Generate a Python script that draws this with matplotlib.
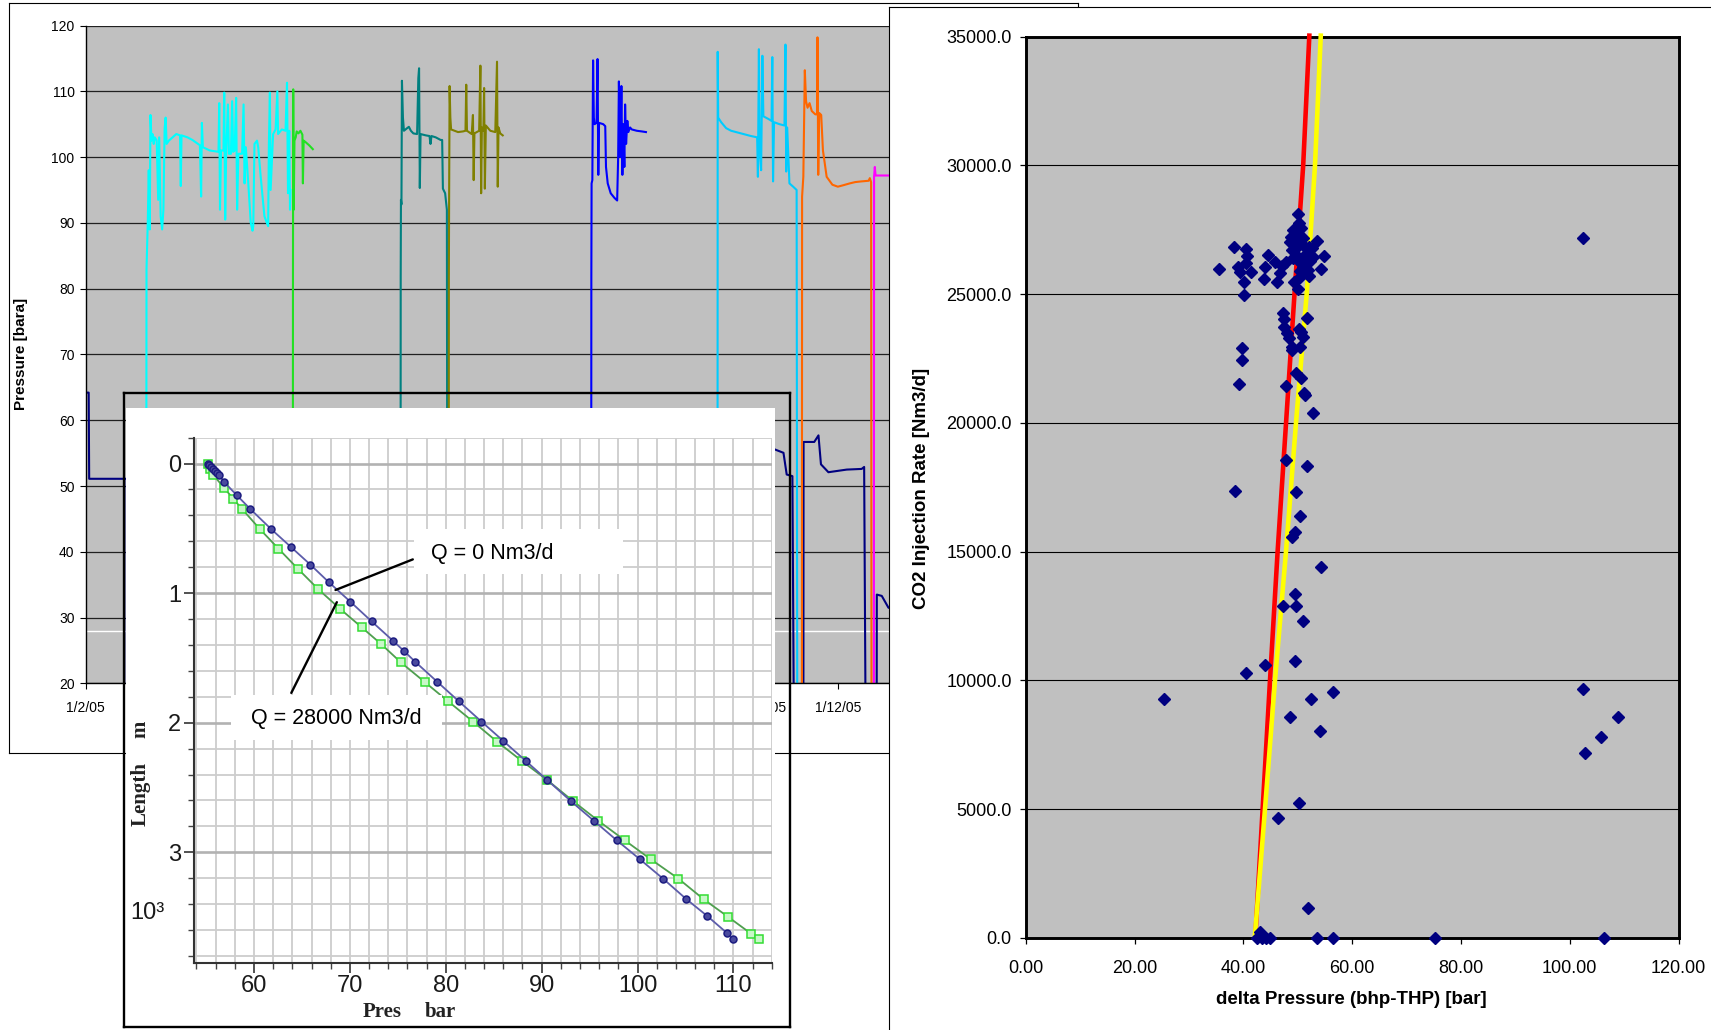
import numpy as np
import matplotlib
matplotlib.use("Agg")
import matplotlib.pyplot as plt
import matplotlib.dates as mdates
from matplotlib.patches import Rectangle
from matplotlib.ticker import MultipleLocator, FuncFormatter

plt.rcParams['font.family'] = ['Liberation Sans', 'DejaVu Sans']

# ---------------------------------------------------------------------------
# Wellhead pressure history (days after 1 Feb 2005, bara)
# ---------------------------------------------------------------------------
navy_day = [0, 1.2, 1.4, 16.5, 16.6, 271.9, 272.0, 277.7, 281.1, 282.4, 284.7, 285.5,
            289.1, 289.2, 293.5, 295.2, 296.2, 299.2, 306.6, 312.6, 313.6, 314.4,
            318.6, 318.7, 320.7, 323.4, 330.0]
navy_bar = [64.2, 64.2, 51.1, 51.1, 0, 0, 55.6, 55.55, 55.05, 51.75, 51.5, 0,
            0, 56.7, 56.7, 57.7, 53.3, 52.1, 52.5, 52.6, 52.9, 0,
            0, 33.5, 33.3, 31.5, 31.0]

cyan_day = [24.3, 24.5, 25.0, 25.4, 25.8, 26.1, 26.5, 26.9, 27.4, 27.8, 28.6, 29.2, 29.6,
            30.2, 30.8, 31.3, 31.8, 32.2, 32.6, 33.5, 35.0, 36.5, 38.0, 38.3, 38.6, 41.0,
            43.0, 46.0, 46.5, 46.8, 47.2, 50.0, 53.5, 53.8, 54.1, 54.5, 55.5, 55.8, 56.2,
            56.6, 57.3, 57.7, 58.5, 59.0, 59.4, 60.0, 60.6, 61.0, 61.5, 63.0, 63.6, 64.0,
            64.5, 65.5, 66.5, 67.2, 67.5, 68.0, 69.0, 69.5, 70.5, 72.0, 73.5, 73.8, 74.2,
            74.5, 75.5, 76.5, 77.2, 77.5, 79.0, 80.5, 81.1, 81.5, 82.0, 82.3, 82.5]
cyan_bar = [0, 83.0, 90.0, 98.0, 89.0, 106.4, 102.5, 103.5, 102.0, 103.0, 102.5, 93.5, 103.0,
            91.0, 89.0, 92.0, 104.4, 106.0, 102.0, 102.5, 103.0, 103.5, 103.3, 95.6, 103.3, 103.0,
            102.6, 101.8, 94.0, 105.2, 101.5, 101.0, 100.8, 108.2, 92.0, 101.0, 101.0, 109.8, 90.5,
            101.0, 108.0, 100.5, 100.5, 108.5, 100.8, 101.0, 109.0, 92.0, 100.5, 100.5, 108.0, 96.0,
            101.5, 96.0, 90.0, 88.8, 89.5, 102.0, 102.5, 101.5, 97.0, 91.0, 89.5, 102.0, 109.8,
            95.0, 103.5, 104.2, 110.0, 103.5, 104.2, 104.0, 111.3, 94.5, 104.0, 92.0, 95.0]

green_day = [83.4, 83.5, 83.6, 83.8, 84.1, 84.6, 85.0, 85.7, 86.5, 87.3, 87.5, 87.8, 88.5, 90.0, 91.5]
green_bar = [0, 82.0, 110.3, 92.0, 102.5, 103.0, 103.9, 103.6, 104.0, 103.4, 96.0, 102.5, 102.3, 101.8, 101.2]

teal_day = [126.8, 126.9, 127.0, 127.2, 127.4, 127.8, 128.2, 129.5, 130.2, 131.0, 132.0, 133.5,
            134.0, 134.3, 134.6, 134.9, 137.0, 138.5, 138.9, 139.3, 141.0, 143.0, 143.6, 143.9,
            144.8, 145.5, 145.8]
teal_bar = [0, 82.0, 93.5, 92.8, 111.6, 106.0, 104.0, 104.4, 104.6, 104.0, 103.6, 103.5,
            112.0, 113.5, 95.3, 103.5, 103.3, 103.2, 102.0, 103.2, 103.0, 102.6, 102.6, 95.2,
            94.5, 92.0, 0]

olive_day = [146.2, 146.3, 146.4, 146.6, 146.9, 147.2, 150.0, 152.0, 153.0, 153.3, 153.6, 155.5,
             156.0, 156.3, 156.6, 158.5, 159.0, 159.3, 159.6, 160.2, 160.5, 160.8, 161.2, 163.0,
             165.0, 165.7, 166.0, 166.3, 167.0, 168.0]
olive_bar = [0, 82.0, 93.2, 110.8, 106.0, 104.2, 103.8, 103.9, 104.0, 111.0, 104.0, 103.5,
             106.4, 96.5, 103.6, 104.0, 113.9, 94.5, 104.5, 104.0, 110.5, 95.2, 104.8, 104.0,
             103.8, 114.5, 95.5, 104.5, 103.6, 103.3]

blue_day = [203.6, 203.7, 203.8, 204.1, 204.4, 204.7, 205.0, 205.8, 206.2, 206.5, 206.8, 208.5,
            209.3, 209.6, 210.3, 211.5, 213.0, 214.1, 214.5, 214.8, 215.1, 215.4, 215.8, 216.2,
            216.6, 217.0, 217.3, 217.7, 218.2, 218.6, 219.3, 220.0, 222.0, 224.0, 225.7]
blue_bar = [0, 82.0, 96.0, 96.5, 114.7, 106.0, 105.0, 105.2, 114.9, 97.3, 105.2, 105.0,
            104.7, 98.5, 96.0, 94.5, 93.8, 93.4, 100.0, 111.5, 105.5, 100.0, 110.8, 97.3,
            105.0, 98.5, 108.0, 102.0, 105.5, 103.8, 104.5, 104.2, 104.0, 103.9, 103.8]

sky_day = [254.5, 254.6, 254.8, 256.0, 258.0, 260.0, 262.0, 264.0, 266.0, 268.0, 270.5, 270.8,
           271.2, 271.5, 272.1, 272.6, 273.0, 275.0, 276.3, 276.6, 276.9, 277.3, 279.5, 281.5,
           281.9, 282.2, 282.6, 283.5, 285.0, 286.4, 286.7]
sky_bar = [0, 116.0, 106.0, 105.3, 104.4, 104.0, 103.8, 103.6, 103.4, 103.2, 103.0, 97.0,
           116.4, 101.0, 98.0, 115.4, 106.2, 105.8, 105.5, 115.2, 96.3, 105.3, 105.0, 104.8,
           117.1, 97.8, 104.5, 96.0, 95.5, 95.0, 0]

orange_day = [288.5, 288.6, 289.1, 289.7, 290.2, 290.8, 291.6, 292.5, 293.9, 294.6, 294.8, 295.1,
              295.5, 296.3, 297.0, 298.5, 300.8, 303.0, 305.0, 307.8, 310.0, 312.4, 315.4, 315.9,
              316.4, 316.6]
orange_bar = [0, 94.0, 97.0, 113.2, 108.5, 107.5, 108.2, 107.0, 106.5, 106.5, 118.2, 97.3,
              106.7, 106.4, 101.0, 97.0, 95.8, 95.5, 95.7, 96.0, 96.2, 96.3, 96.4, 96.8,
              96.2, 0]

magenta_day = [317.5, 317.6, 317.9, 318.2, 320.0, 323.5, 330.0]
magenta_bar = [0, 97.0, 98.5, 97.2, 97.2, 97.2, 97.2]

white_level = 27.9

# months whose date labels sit in the open part of the axis
labelled_months = [2, 11, 12]

# ---------------------------------------------------------------------------
# Pressure traverse along the well (bar vs. length in 10^3 m)
# ---------------------------------------------------------------------------
q0_pres = [55.18, 55.3, 55.5, 55.7, 55.9, 56.1, 56.38, 56.84, 58.22, 59.6, 61.8, 63.82, 65.89,
           67.82, 70.03, 72.28, 74.53, 75.68, 76.83, 79.08, 81.38, 83.72, 86.02, 88.32, 90.61,
           93.05, 95.44, 97.83, 100.27, 102.66, 105.09, 107.25, 109.32, 110.01]
q0_len = [0.0, 0.01, 0.025, 0.045, 0.06, 0.075, 0.089, 0.139, 0.246, 0.350, 0.507, 0.642, 0.781,
          0.917, 1.065, 1.219, 1.370, 1.449, 1.531, 1.682, 1.836, 1.991, 2.142, 2.293, 2.444,
          2.605, 2.756, 2.907, 3.055, 3.203, 3.361, 3.490, 3.622, 3.669]

q28_pres = [55.18, 55.45, 55.76, 56.91, 57.85, 58.79, 60.64, 62.55, 64.64, 66.72, 68.97, 71.22,
            73.29, 75.31, 77.79, 80.27, 82.89, 85.38, 87.95, 90.61, 93.28, 95.90, 98.66, 101.41,
            104.26, 106.93, 109.41, 111.85, 112.63]
q28_len = [0.0, 0.04, 0.089, 0.19, 0.274, 0.354, 0.508, 0.657, 0.817, 0.971, 1.121, 1.263,
           1.395, 1.534, 1.685, 1.836, 1.994, 2.148, 2.296, 2.444, 2.605, 2.756, 2.907, 3.055,
           3.203, 3.364, 3.496, 3.628, 3.672]

# ---------------------------------------------------------------------------
# CO2 injection rate vs. delta pressure
# ---------------------------------------------------------------------------
dp_bar = [35.55, 38.28, 39.06, 39.45, 40.04, 40.04, 40.43, 40.72, 40.43, 41.4, 43.83, 44.03,
          44.61, 45.78, 46.27, 46.76, 47.05, 47.92, 48.7, 48.5, 49.19, 49.97, 50.16, 50.65,
          49.68, 49.19, 50.65, 51.14, 50.36, 51.63, 52.12, 52.6, 53.58, 52.8, 54.84, 54.35,
          52.12, 49.39, 49.97, 50.94, 50.45, 51.34, 49.5, 50.0, 50.9, 51.6, 49.9, 50.3,
          51.0, 49.0, 50.5, 51.8, 52.3,
          47.24, 47.53, 47.44, 48.02, 48.41, 48.99, 48.99, 50.16, 50.65, 50.94, 50.45, 51.63,
          39.84, 39.84, 39.26, 47.83, 49.68, 50.65, 51.14, 51.34, 52.8, 47.83, 51.63, 38.48,
          49.68, 50.45, 48.99, 49.48, 54.35, 49.48, 47.24, 49.68, 50.94, 49.48, 44.03, 40.43,
          25.33, 52.41, 56.5, 48.51, 54.06, 50.16, 46.46, 51.82,
          102.47, 102.47, 105.69, 108.8, 102.76,
          43.15, 42.57, 43.35, 44.13, 44.81, 53.58, 56.5, 75.29, 106.36]
rate_nm3d = [25964, 26818, 26067, 25873, 25485, 24967, 26767, 26482, 26197, 25873, 25601, 26067,
             26521, 26262, 25485, 25808, 26093, 26236, 27233, 27039, 27492, 28101, 27751, 27557,
             26780, 26392, 26197, 25938, 25679, 26586, 26844, 26780, 27077, 26456, 26482, 25964,
             25705, 25485, 25187, 26067, 27168, 26456, 27300, 27000, 26900, 26200, 26500, 26300,
             27200, 26700, 25900, 25950, 26300,
             24281, 24022, 23737, 23478, 23284, 22960, 22830, 23634, 23543, 23349, 22960, 24061,
             22895, 22442, 21510, 21446, 21925, 21756, 21174, 21083, 20371, 18558, 18325, 17354,
             17302, 16383, 15560, 15757, 14404, 13354, 12894, 12894, 12316, 10754, 10596, 10281,
             9257, 9257, 9546, 8561, 8036, 5252, 4635, 1155,
             27181, 9677, 7812, 8561, 7182,
             236, 0, 0, 0, 0, 0, 0, 0, 0]

trend_rate = [0, 5000, 10000, 15000, 20000, 25000, 30000, 35130]
red_dp = [42.2, 43.55, 44.9, 46.3, 47.85, 49.4, 51.0, 52.15]
yellow_dp = [42.1, 43.98, 45.82, 47.84, 49.68, 51.64, 53.17, 54.25]

# ---------------------------------------------------------------------------
W, H = 1711, 1030
fig = plt.figure(figsize=(W / 100, H / 100), dpi=100)
fig.patch.set_facecolor('white')


def box(x0, y0, x1, y1):
    return [x0 / W, 1 - y1 / H, (x1 - x0) / W, (y1 - y0) / H]


def fx(x):
    return x / W


def fy(y):
    return 1 - y / H


def blank(ax):
    ax.set_xticks([])
    ax.set_yticks([])


# ---- top-left chart: pressure history -----------------------------------
frame1 = fig.add_axes(box(8.6, 3.3, 1078, 752.7), zorder=1)
blank(frame1)
frame1.set_facecolor('white')
for s in frame1.spines.values():
    s.set_linewidth(0.8)
    s.set_color('black')

ax1 = fig.add_axes(box(85.7, 25.5, 1060, 683.4), zorder=2)
ax1.set_facecolor('#C0C0C0')
t0 = mdates.date2num(np.datetime64('2005-02-01'))

ax1.axhline(white_level, color='white', lw=1.0, zorder=1.5)
series = [
    (navy_day, navy_bar, '#000080'),
    (cyan_day, cyan_bar, '#00FFFF'),
    (green_day, green_bar, '#22E022'),
    (teal_day, teal_bar, '#008080'),
    (olive_day, olive_bar, '#808000'),
    (blue_day, blue_bar, '#0000FF'),
    (sky_day, sky_bar, '#00CCFF'),
    (orange_day, orange_bar, '#FF6600'),
    (magenta_day, magenta_bar, '#FF00FF'),
]
for d, v, c in series:
    ax1.plot(t0 + np.asarray(d), v, color=c, lw=1.5, zorder=2)

ax1.set_xlim(t0, t0 + 392.5)
ax1.set_ylim(20, 120)
ax1.yaxis.set_major_locator(MultipleLocator(10))
ax1.xaxis.set_major_locator(mdates.MonthLocator())


def date_label(x, pos):
    d = mdates.num2date(x)
    if d.year == 2005 and d.month not in labelled_months:
        return ''
    return f"{d.day}/{d.month}/{d.strftime('%y')}"


ax1.xaxis.set_major_formatter(FuncFormatter(date_label))
ax1.grid(axis='y', color='#202020', lw=0.9)
ax1.grid(axis='x', visible=False)
ax1.set_axisbelow(True)
for side in ('top', 'right'):
    ax1.spines[side].set_visible(False)
for side in ('left', 'bottom'):
    ax1.spines[side].set_color('black')
    ax1.spines[side].set_linewidth(1.0)
ax1.tick_params(axis='both', labelsize=10, length=4, width=0.8, colors='black')
ax1.tick_params(axis='y', pad=4)
ax1.tick_params(axis='x', pad=9)
fig.text(fx(21.2), fy(354), 'Pressure [bara]', rotation=90, ha='center', va='center',
         fontsize=11, fontweight='bold')

# ---- inset: pressure traverse ---------------------------------------------
inset_bg = fig.add_axes(box(124, 393, 790, 1027), zorder=3)
blank(inset_bg)
inset_bg.patch.set_visible(False)
for s in inset_bg.spines.values():
    s.set_linewidth(1.7)
    s.set_color('black')
inset_bg.add_patch(Rectangle((fx(126), fy(1027)), (775 - 126) / W, (1027 - 408) / H,
                             transform=fig.transFigure, fc='white', ec='none', zorder=0.5))

ax2 = fig.add_axes(box(193.6, 437.6, 772.4, 962.6), zorder=4)
ax2.patch.set_visible(False)
ax2.plot(q28_pres, q28_len, color='#4f9f4f', lw=1.3, marker='s', ms=5.5,
         mfc='#c8f8c8', mec='#33dd33', mew=1.1, zorder=3)
ax2.plot(q0_pres, q0_len, color='#5c5caa', lw=1.3, marker='o', ms=5.0,
         mfc='#4a4a9e', mec='#1c1c80', mew=1.1, zorder=3.1)
ax2.set_xlim(53.7, 114.07)
ax2.set_ylim(3.851, -0.2)
ax2.xaxis.set_major_locator(MultipleLocator(10))
ax2.xaxis.set_minor_locator(MultipleLocator(2))
ax2.yaxis.set_major_locator(MultipleLocator(1))
ax2.yaxis.set_minor_locator(MultipleLocator(0.2))
ax2.grid(which='minor', color='#cdcdcd', lw=1.3)
ax2.grid(which='major', axis='x', color='#cdcdcd', lw=1.3)
ax2.grid(which='major', axis='y', color='#b2b2b2', lw=1.9)
ax2.set_axisbelow(True)
for side in ('top', 'right'):
    ax2.spines[side].set_visible(False)
for side in ('left', 'bottom'):
    ax2.spines[side].set_color('#333333')
    ax2.spines[side].set_linewidth(1.5)
ax2.tick_params(which='major', length=7.5, width=1.2, colors='#333333', labelsize=17,
                labelcolor='#1a1a1a', pad=1.5)
ax2.tick_params(which='minor', length=4.5, width=1.0, colors='#444444')

# callout boxes and leader lines
for (x0, y0, x1, y1) in [(414, 529, 623, 574), (231, 695, 442, 740)]:
    ax2.add_patch(Rectangle((fx(x0), fy(y1)), (x1 - x0) / W, (y1 - y0) / H,
                            transform=fig.transFigure, fc='white', ec='none',
                            zorder=5, clip_on=False))
ax2.text(fx(431), fy(553.6), 'Q = 0 Nm3/d', transform=fig.transFigure, ha='left',
         va='center', fontsize=15.5, zorder=6)
ax2.text(fx(250.8), fy(718.5), 'Q = 28000 Nm3/d', transform=fig.transFigure, ha='left',
         va='center', fontsize=15.5, zorder=6)
arrow = dict(arrowstyle='-', color='black', lw=1.7, shrinkA=0, shrinkB=0)
ax2.annotate('', xy=(68.5, 0.976), xycoords='data', xytext=(fx(412.8), fy(559.4)),
             textcoords='figure fraction', arrowprops=arrow, zorder=6)
ax2.annotate('', xy=(68.64, 1.07), xycoords='data', xytext=(fx(291.3), fy(692.9)),
             textcoords='figure fraction', arrowprops=arrow, zorder=6)

serif = ['Liberation Serif', 'DejaVu Serif']
ax2.text(fx(382.2), fy(1012.4), 'Pres', transform=fig.transFigure, ha='center', va='center',
         fontsize=15, fontweight='bold', family=serif, color='#222222', clip_on=False)
ax2.text(fx(440.1), fy(1012.4), 'bar', transform=fig.transFigure, ha='center', va='center',
         fontsize=15, fontweight='bold', family=serif, color='#222222', clip_on=False)
ax2.text(fx(140.7), fy(794), 'Length', transform=fig.transFigure, ha='center', va='center',
         rotation=90, fontsize=15, fontweight='bold', family=serif, color='#222222',
         clip_on=False)
ax2.text(fx(140.7), fy(729), 'm', transform=fig.transFigure, ha='center', va='center',
         rotation=90, fontsize=15, fontweight='bold', family=serif, color='#222222',
         clip_on=False)
ax2.text(fx(147), fy(913), '10³', transform=fig.transFigure, ha='center', va='center',
         fontsize=17, color='#1a1a1a', clip_on=False)

# ---- right chart: injection rate vs delta pressure ------------------------
frame3 = fig.add_axes(box(888.7, 6.7, 1730, 1050), zorder=5)
blank(frame3)
frame3.set_facecolor('white')
for s in frame3.spines.values():
    s.set_linewidth(0.8)
    s.set_color('black')

ax3 = fig.add_axes(box(1025.7, 36.7, 1678.6, 937.8), zorder=6)
ax3.set_facecolor('#C0C0C0')
ax3.plot(red_dp, trend_rate, color='#FF0000', lw=3.3, zorder=3, clip_on=False,
         solid_capstyle='butt')
ax3.plot(yellow_dp, trend_rate, color='#FFFF00', lw=3.3, zorder=3.1, clip_on=False,
         solid_capstyle='butt')
ax3.plot(dp_bar, rate_nm3d, linestyle='none', marker='D', ms=5.8, color='#000080',
         mec='#000080', zorder=4, clip_on=False)
ax3.set_xlim(0, 120)
ax3.set_ylim(0, 35000)
ax3.xaxis.set_major_locator(MultipleLocator(20))
ax3.yaxis.set_major_locator(MultipleLocator(5000))
ax3.xaxis.set_major_formatter(FuncFormatter(lambda v, p: f"{v:.2f}"))
ax3.yaxis.set_major_formatter(FuncFormatter(lambda v, p: f"{v:.1f}"))
ax3.grid(axis='y', color='black', lw=0.8)
ax3.grid(axis='x', visible=False)
ax3.set_axisbelow(True)
for s in ax3.spines.values():
    s.set_linewidth(2.1)
    s.set_color('black')
ax3.tick_params(axis='both', labelsize=13, length=4, width=0.9, colors='black')
ax3.tick_params(axis='x', pad=12)
ax3.tick_params(axis='y', pad=6)
fig.text(fx(1351.6), fy(1000), 'delta Pressure (bhp-THP) [bar]', ha='center', va='center',
         fontsize=13.5, fontweight='bold', zorder=10)
fig.text(fx(921), fy(488), 'CO2 Injection Rate [Nm3/d]', rotation=90, ha='center',
         va='center', fontsize=13.5, fontweight='bold', zorder=10)

fig.savefig('out.png', dpi=100, facecolor='white')
